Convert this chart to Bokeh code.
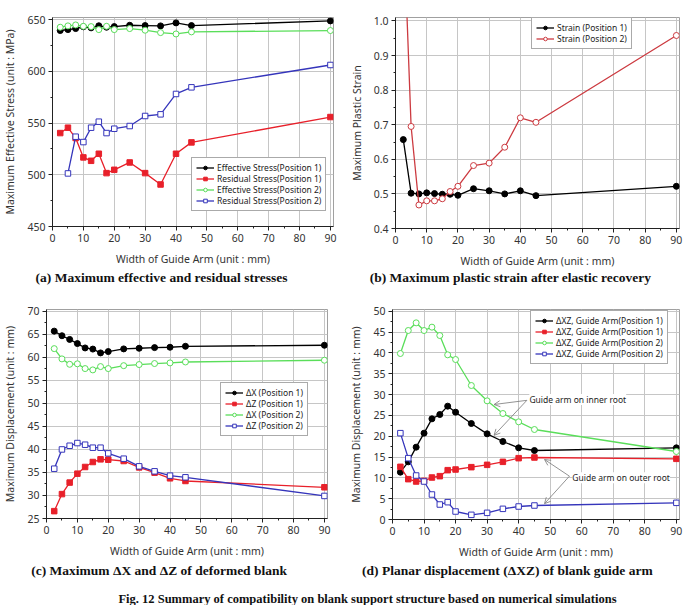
from bokeh.plotting import figure
from bokeh.layouts import column, row
from bokeh.models import (Range1d, SingleIntervalTicker, Legend, LegendItem,
                          Label, Arrow, OpenHead, PrintfTickFormatter)
from bokeh.embed import file_html
from bokeh.resources import INLINE
from bokeh.core.properties import value

# ---------------- data ----------------
widths = [2.5, 5, 7.5, 10, 12.5, 15, 17.5, 20, 25, 30, 35, 40, 45, 90]

# (a) stresses (MPa)
eff_stress_p1 = [639.4, 640.3, 641.3, 643.0, 642.0, 644.0, 642.6, 643.2, 644.5, 644.2, 643.9, 646.8, 644.2, 648.7]
res_stress_p1 = [540.3, 545.5, 535.5, 516.8, 513.5, 520.3, 501.6, 504.8, 511.9, 501.6, 490.6, 520.3, 531.3, 555.8]
eff_stress_p2 = [642.6, 643.9, 644.8, 643.5, 643.2, 640.3, 643.5, 640.3, 641.3, 639.7, 637.4, 636.1, 638.1, 639.4]
widths_res_p2 = [5, 7.5, 10, 12.5, 15, 17.5, 20, 25, 30, 35, 40, 45, 90]
res_stress_p2 = [501.3, 536.8, 531.6, 545.5, 551.3, 540.3, 544.5, 547.1, 556.8, 558.4, 578.1, 584.5, 606.1]

# (b) plastic strain
strain_p1 = [0.657, 0.502, 0.500, 0.503, 0.501, 0.499, 0.499, 0.496, 0.515, 0.509, 0.500, 0.509, 0.495, 0.522]
strain_p2 = [1.30, 0.695, 0.468, 0.480, 0.480, 0.486, 0.507, 0.522, 0.582, 0.589, 0.635, 0.720, 0.707, 0.958]

# (c) displacement (mm)
dx_p1 = [65.7, 64.7, 63.9, 63.0, 62.05, 61.8, 60.97, 61.26, 61.84, 61.98, 62.12, 62.2, 62.41, 62.63]
dz_p1 = [26.6, 30.3, 32.8, 34.74, 36.19, 37.27, 37.85, 37.77, 37.49, 36.1, 34.96, 33.73, 33.15, 31.78]
dx_p2 = [61.9, 59.67, 58.5, 58.6, 57.57, 57.28, 58.0, 57.57, 58.2, 58.44, 58.66, 58.8, 59.0, 59.38]
dz_p2 = [35.82, 40.0, 40.8, 41.39, 41.03, 40.38, 40.38, 39.15, 37.99, 36.33, 35.25, 34.31, 33.95, 29.9]

# (d) planar displacement (mm)
dxz_inner_p1 = [11.36, 13.84, 17.36, 20.72, 24.16, 25.2, 27.2, 25.76, 23.04, 20.56, 18.72, 17.2, 16.56, 17.2]
dxz_outer_p1 = [12.64, 9.68, 9.12, 9.28, 10.08, 10.4, 11.84, 12.0, 12.56, 13.12, 13.84, 14.72, 14.88, 14.56]
dxz_inner_p2 = [39.84, 45.36, 47.2, 45.36, 46.16, 44.16, 39.52, 38.4, 32.16, 28.48, 25.44, 23.44, 21.6, 16.32]
dxz_outer_p2 = [20.72, 14.72, 10.56, 9.12, 6.0, 3.6, 4.16, 1.92, 1.12, 1.6, 2.56, 3.12, 3.36, 4.0]

# annotation anchors in panel (d), data units
inner_note = (43.4, 28.8)
inner_arrow_start = (42.6, 28.6)
inner_arrow_ends = [(32.2, 27.6), (32.2, 20.2)]
outer_note = (57.0, 10.0)
outer_arrow_start = (56.1, 10.4)
outer_arrow_ends = [(48.2, 14.4), (48.2, 3.8)]

captions_top = ["(a) Maximum effective and residual stresses",
                "(b) Maximum plastic strain after elastic recovery"]
captions_bottom = ["(c) Maximum  \u0394X and  \u0394Z of deformed blank",
                   "(d) Planar displacement (\u0394XZ) of blank guide arm"]
fig_caption = ["Fig. 12 Summary of compatibility on blank support structure based on numerical simulations"]

# ---------------- style ----------------
SANS = "Noto Sans"
SERIF = "Liberation Serif"
BLACK = "#000000"
RED = "#e8202a"
GREEN = "#5ade5a"
BLUE = "#3535bb"
RED_B = "#cc3a40"
GRID = "#c6c6c6"


def make_fig(bl, fw, br, bt, fh, bb, xr, yr, ylabel, yint, yfmt=None):
    p = figure(frame_width=fw, frame_height=fh, min_border_left=bl, min_border_right=br,
               min_border_top=bt, min_border_bottom=bb,
               x_range=Range1d(*xr), y_range=Range1d(*yr),
               output_backend="svg", toolbar_location=None)
    p.xaxis.ticker = SingleIntervalTicker(interval=10, num_minor_ticks=2)
    p.yaxis.ticker = SingleIntervalTicker(interval=yint, num_minor_ticks=2)
    p.xgrid.ticker = SingleIntervalTicker(interval=10)
    p.ygrid.ticker = SingleIntervalTicker(interval=yint)
    if yfmt:
        p.yaxis.formatter = PrintfTickFormatter(format=yfmt)
    p.xaxis.axis_label = "Width of Guide Arm (unit : mm)"
    p.yaxis.axis_label = ylabel
    for ax in (p.xaxis, p.yaxis):
        ax.axis_line_color = "#222222"
        ax.major_tick_line_color = "#222222"
        ax.minor_tick_line_color = "#222222"
        ax.major_tick_out = 4
        ax.major_tick_in = 0
        ax.minor_tick_out = 2
        ax.minor_tick_in = 0
        ax.major_label_text_font = SANS
        ax.major_label_text_font_size = "10.5px"
        ax.major_label_text_color = "#333333"
        ax.major_label_standoff = 3
        ax.axis_label_text_font = SANS
        ax.axis_label_text_font_size = "10.5px"
        ax.axis_label_text_font_style = "normal"
        ax.axis_label_text_color = "#333333"
        ax.axis_label_standoff = 7
    p.grid.grid_line_color = GRID
    p.grid.grid_line_width = 1
    p.outline_line_color = "#a0a0a0"
    p.background_fill_color = "white"
    return p


def caption_strip(h, xs, y, texts, size):
    s = figure(width=681, height=h, x_range=Range1d(0, 681), y_range=Range1d(0, h),
               min_border=0, output_backend="svg", toolbar_location=None,
               x_axis_type=None, y_axis_type=None)
    s.grid.visible = False
    s.outline_line_color = None
    s.text(x=xs, y=[y] * len(texts), text=texts, text_align="center", text_baseline="middle",
           text_font=value(SERIF), text_font_size=size, text_font_style="bold",
           text_color="#111111")
    return s


def series(p, x, y, color, marker, filled):
    ln = p.line(x, y, line_color=color, line_width=1.3)
    sc = p.scatter(x, y, marker=marker, size=6 if marker == "circle" else 5.5,
                   line_color=color, line_width=1,
                   fill_color=color if filled else "white")
    return [ln, sc]


def add_legend(p, items, loc):
    leg = Legend(items=[LegendItem(label=l, renderers=r) for l, r in items], location=loc,
                 label_text_font=SANS, label_text_font_size="8.5px", label_text_color="#222222",
                 glyph_width=18, glyph_height=9, label_height=9, spacing=0, padding=4,
                 margin=0, label_standoff=3, border_line_color="#555555", border_line_width=1,
                 background_fill_color="white", background_fill_alpha=1)
    p.add_layout(leg)


# (a)
pa = make_fig(43, 281, 13, 17, 209, 42, (0, 91), (450, 652),
              "Maximum Effective Stress (unit : MPa)", 50)
ra1 = series(pa, widths, eff_stress_p1, BLACK, "circle", True)
ra2 = series(pa, widths, res_stress_p1, RED, "square", True)
ra3 = series(pa, widths, eff_stress_p2, GREEN, "circle", False)
ra4 = series(pa, widths_res_p2, res_stress_p2, BLUE, "square", False)
add_legend(pa, [("Effective Stress(Position 1)", ra1), ("Residual Stress(Position 1)", ra2),
                ("Effective Stress(Position 2)", ra3), ("Residual Stress(Position 2)", ra4)],
           (139, 15))

# (b)
pb = make_fig(49, 284, 11, 15, 211, 42, (0, 91), (0.4, 1.01),
              "Maximum Plastic Strain", 0.1, yfmt="%.1f")
rb1 = series(pb, widths, strain_p1, BLACK, "circle", True)
rb2 = series(pb, widths, strain_p2, RED_B, "circle", False)
add_legend(pb, [("Strain (Position 1)", rb1), ("Strain (Position 2)", rb2)], (136, 179))

# (c)
pc = make_fig(38, 281, 18, 19, 209, 45, (0, 91), (25, 70.4),
              "Maximum Displacement (unit : mm)", 5)
rc1 = series(pc, widths, dx_p1, BLACK, "circle", True)
rc2 = series(pc, widths, dz_p1, RED, "square", True)
rc3 = series(pc, widths, dx_p2, GREEN, "circle", False)
rc4 = series(pc, widths, dz_p2, BLUE, "square", False)
add_legend(pc, [("\u0394X (Position 1)", rc1), ("\u0394Z (Position 1)", rc2),
                ("\u0394X (Position 2)", rc3), ("\u0394Z (Position 2)", rc4)], (174, 82))

# (d)
pd_ = make_fig(47, 287, 10, 18, 210, 45, (0, 91), (0, 50.4),
               "Maximum Displacement (unit : mm)", 5)
rd1 = series(pd_, widths, dxz_inner_p1, BLACK, "circle", True)
rd2 = series(pd_, widths, dxz_outer_p1, RED, "square", True)
rd3 = series(pd_, widths, dxz_inner_p2, GREEN, "circle", False)
rd4 = series(pd_, widths, dxz_outer_p2, BLUE, "square", False)
add_legend(pd_, [("\u0394XZ, Guide Arm(Position 1)", rd1), ("\u0394XZ, Guide Arm(Position 1)", rd2),
                 ("\u0394XZ, Guide Arm(Position 2)", rd3), ("\u0394XZ, Guide Arm(Position 2)", rd4)],
           (138, 155))

for ex, ey in inner_arrow_ends:
    pd_.add_layout(Arrow(x_start=inner_arrow_start[0], y_start=inner_arrow_start[1], x_end=ex, y_end=ey,
                         line_color="#777777", line_width=0.8,
                         end=OpenHead(size=6, line_color="#777777", line_width=0.8)))
for ex, ey in outer_arrow_ends:
    pd_.add_layout(Arrow(x_start=outer_arrow_start[0], y_start=outer_arrow_start[1], x_end=ex, y_end=ey,
                         line_color="#777777", line_width=0.8,
                         end=OpenHead(size=6, line_color="#777777", line_width=0.8)))
pd_.add_layout(Label(x=inner_note[0], y=inner_note[1], text="Guide arm on inner root",
                     text_font=SANS, text_font_size="8.5px", text_color="#222222",
                     text_baseline="middle", background_fill_color="white"))
pd_.add_layout(Label(x=outer_note[0], y=outer_note[1], text="Guide arm on outer root",
                     text_font=SANS, text_font_size="8.5px", text_color="#222222",
                     text_baseline="middle", background_fill_color="white"))

# caption strips
cap1 = caption_strip(22, [161, 510], 13, captions_top, "13.5px")
cap2 = caption_strip(22, [162, 507], 15, captions_bottom, "13.5px")
cap3 = caption_strip(20, [367], 7, fig_caption, "12.5px")

layout = column(row(pa, pb), cap1, row(pc, pd_), cap2, cap3)
open("out.html", "w").write(file_html(layout, INLINE))
